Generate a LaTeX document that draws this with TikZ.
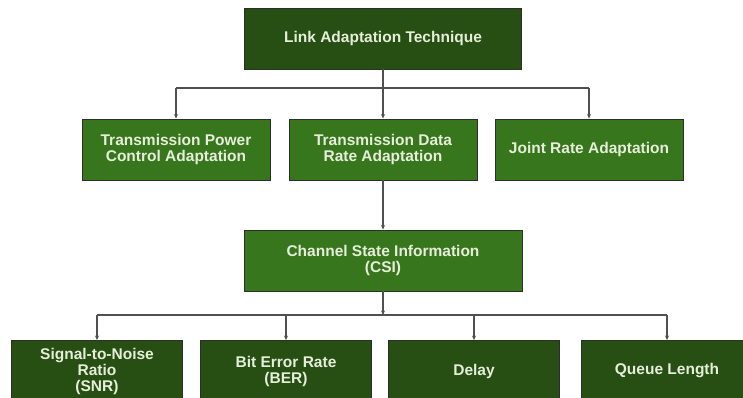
\documentclass[tikz,border=0pt]{standalone}
\usepackage{fontspec}
\setsansfont{Liberation Sans}
\usetikzlibrary{arrows.meta,positioning,calc}
\definecolor{rootgreen}{HTML}{274E13}
\definecolor{midgreen}{HTML}{38761D}
\definecolor{leafgreen}{HTML}{274E13}
\definecolor{boxedge}{HTML}{2E2E2E}
\definecolor{linkgray}{HTML}{505050}
\definecolor{labelcream}{HTML}{E6EEDA}
\tikzset{
  box/.style={
    draw=boxedge,
    line width=0.9pt,
    align=center,
    inner sep=3pt,
    text=labelcream,
    font=\sffamily\bfseries\fontsize{15.5}{16}\selectfont,
    minimum height=61pt
  },
  rootbox/.style={
    box,
    fill=rootgreen,
    minimum width=277pt
  },
  methodbox/.style={
    box,
    fill=midgreen,
    minimum width=188pt
  },
  csibox/.style={
    box,
    fill=midgreen,
    minimum width=278pt
  },
  metricbox/.style={
    box,
    fill=leafgreen,
    minimum width=171pt
  },
  link/.style={
    draw=linkgray,
    line width=1.2pt
  },
  arrow/.style={
    link,
    -{Stealth[length=4.5pt,width=4pt]}
  }
}
\begin{document}
\begin{tikzpicture}[x=1pt,y=-1pt]
  \path[clip] (0,0) rectangle (743,397);
  \fill[white] (0,0) rectangle (743,397);

  \node[rootbox] (root) at (383,38.5) {Link Adaptation Technique};

  \node[methodbox] (power) at (176,149.5) {Transmission Power\\Control Adaptation};
  \node[methodbox] (rate) at (383,149.5) {Transmission Data\\Rate Adaptation};
  \node[methodbox] (joint) at (589,149.5) {Joint Rate Adaptation};

  \node[csibox] (csi) at (383,260.5) {Channel State Information\\(CSI)};

  \node[metricbox] (snr) at (97,371) {Signal-to-Noise\\Ratio\\(SNR)};
  \node[metricbox] (ber) at (286,371) {Bit Error Rate\\(BER)};
  \node[metricbox] (delay) at (474,371) {Delay};
  \node[metricbox] (queue) at (667,371) {Queue Length};

  % first level
  \coordinate (bus1) at (383,88);
  \draw[link] (power.north |- bus1) -- (joint.north |- bus1);
  \draw[arrow] (root.south) -- (rate.north);
  \draw[arrow] (power.north |- bus1) -- (power.north);
  \draw[arrow] (joint.north |- bus1) -- (joint.north);

  \draw[arrow] (rate.south) -- (csi.north);

  % metrics
  \coordinate (bus2) at (383,315);
  \draw[link] (snr.north |- bus2) -- (queue.north |- bus2);
  \draw[arrow] (csi.south) -- (bus2);
  \draw[arrow] (snr.north |- bus2) -- (snr.north);
  \draw[arrow] (ber.north |- bus2) -- (ber.north);
  \draw[arrow] (delay.north |- bus2) -- (delay.north);
  \draw[arrow] (queue.north |- bus2) -- (queue.north);
\end{tikzpicture}
\end{document}
